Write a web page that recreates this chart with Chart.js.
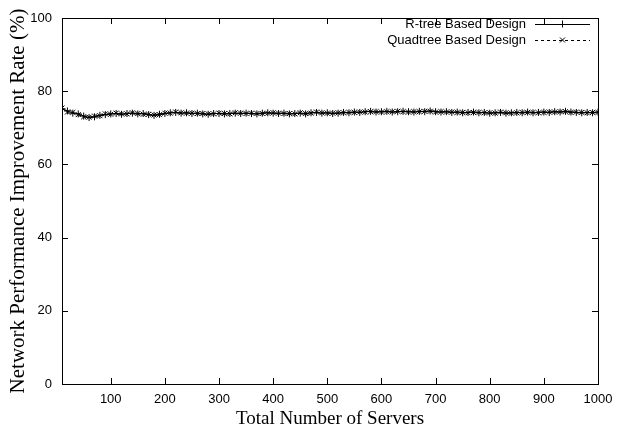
<!DOCTYPE html>
<html>
<head>
<meta charset="utf-8">
<script src="https://cdn.jsdelivr.net/npm/chart.js@4"></script>
<style>
  html, body { margin: 0; padding: 0; background: #fff; }
  #wrap { width: 622px; height: 430px; }
</style>
</head>
<body>
<div id="wrap"><canvas id="chart" width="622" height="430"></canvas></div>
<script>
const servers = [];
for (let s = 10; s <= 1000; s += 10) servers.push(s);

const rtreeRate = [
  75.2, 74.6, 74.0, 73.8, 73.2, 72.8, 73.0, 73.4, 73.6, 73.8,
  73.9, 73.7, 73.9, 74.0, 73.8, 73.9, 73.6, 73.4, 73.7, 73.9,
  74.1, 74.2, 74.0, 74.1, 73.9, 74.0, 73.8, 73.7, 73.9, 73.9,
  73.8, 73.9, 74.0, 73.9, 74.0, 73.9, 73.8, 74.0, 74.1, 74.0,
  73.9, 74.0, 73.8, 73.9, 74.0, 73.8, 74.1, 74.2, 74.0, 74.1,
  73.9, 74.0, 74.2, 74.1, 74.3, 74.2, 74.4, 74.5, 74.3, 74.4,
  74.5, 74.3, 74.4, 74.5, 74.4, 74.3, 74.5, 74.4, 74.6, 74.4,
  74.3, 74.4, 74.2, 74.3, 74.1, 74.2, 74.3, 74.1, 74.2, 74.0,
  74.1, 74.2, 74.0, 74.1, 74.2, 74.1, 74.3, 74.1, 74.2, 74.3,
  74.2, 74.4, 74.3, 74.5, 74.3, 74.2, 74.1, 74.2, 74.1, 74.3
];

const quadRate = [
  75.4, 74.3, 74.2, 73.6, 73.0, 72.9, 73.2, 73.3, 73.8, 73.7,
  74.0, 73.8, 73.8, 74.1, 73.9, 73.7, 73.7, 73.5, 73.6, 74.0,
  74.0, 74.3, 74.1, 74.0, 74.0, 73.9, 73.9, 73.8, 73.8, 74.0,
  73.9, 73.8, 74.1, 74.0, 73.9, 74.0, 73.9, 73.9, 74.0, 74.1,
  74.0, 73.9, 73.9, 73.8, 74.1, 73.9, 74.0, 74.3, 74.1, 74.0,
  74.0, 74.1, 74.1, 74.2, 74.2, 74.3, 74.3, 74.4, 74.4, 74.3,
  74.4, 74.4, 74.5, 74.4, 74.3, 74.4, 74.4, 74.5, 74.5, 74.3,
  74.4, 74.3, 74.3, 74.2, 74.2, 74.1, 74.2, 74.2, 74.1, 74.1,
  74.0, 74.3, 74.1, 74.0, 74.1, 74.2, 74.2, 74.2, 74.1, 74.2,
  74.3, 74.3, 74.4, 74.4, 74.2, 74.3, 74.2, 74.1, 74.2, 74.2
];

const xTicks = [100, 200, 300, 400, 500, 600, 700, 800, 900, 1000];
const yTicks = [0, 20, 40, 60, 80, 100];
const seriesNames = ['R-tree Based Design', 'Quadtree Based Design'];

const sansFont = "'Liberation Sans', Arial, sans-serif";
const serifFont = "'Liberation Serif', 'Times New Roman', serif";

function toPoints(vals) {
  return servers.map((s, i) => ({ x: s, y: vals[i] }));
}

// gnuplot style frame, inward ticks and legend
const frame = {
  id: 'frame',
  afterDatasetsDraw(chart) {
    const { ctx, chartArea: a, scales } = chart;
    ctx.save();
    ctx.strokeStyle = '#000';
    ctx.lineWidth = 1;
    ctx.strokeRect(a.left + 0.5, a.top + 0.5, a.right - a.left, a.bottom - a.top);
    ctx.beginPath();
    xTicks.forEach((v) => {
      const px = Math.round(scales.x.getPixelForValue(v)) + 0.5;
      ctx.moveTo(px, a.bottom); ctx.lineTo(px, a.bottom - 6);
      ctx.moveTo(px, a.top); ctx.lineTo(px, a.top + 6);
    });
    yTicks.forEach((v) => {
      const py = Math.round(scales.y.getPixelForValue(v)) + 0.5;
      ctx.moveTo(a.left, py); ctx.lineTo(a.left + 6, py);
      ctx.moveTo(a.right, py); ctx.lineTo(a.right - 6, py);
    });
    ctx.stroke();

    // legend
    ctx.font = '13px ' + sansFont;
    ctx.fillStyle = '#000';
    ctx.textAlign = 'right';
    ctx.textBaseline = 'middle';
    const rows = [a.top + 6, a.top + 22];
    seriesNames.forEach((name, i) => {
      const y = rows[i];
      ctx.fillText(name, 526, y);
      ctx.beginPath();
      ctx.setLineDash(i === 0 ? [] : [3, 3]);
      ctx.moveTo(535, y + 0.5); ctx.lineTo(590, y + 0.5);
      ctx.stroke();
      ctx.setLineDash([]);
      ctx.beginPath();
      if (i === 0) {
        ctx.moveTo(562.5, y - 3.5); ctx.lineTo(562.5, y + 3.5);
        ctx.moveTo(559, y + 0.5); ctx.lineTo(566, y + 0.5);
      } else {
        ctx.moveTo(560, y - 2.5); ctx.lineTo(565, y + 2.5);
        ctx.moveTo(560, y + 2.5); ctx.lineTo(565, y - 2.5);
      }
      ctx.stroke();
    });
    ctx.restore();
  }
};

new Chart(document.getElementById('chart'), {
  type: 'line',
  data: {
    datasets: [
      {
        label: seriesNames[0],
        data: toPoints(rtreeRate),
        borderColor: '#000',
        backgroundColor: '#000',
        borderWidth: 1,
        pointStyle: 'cross',
        pointRadius: 3.5,
        pointBorderWidth: 1,
        tension: 0
      },
      {
        label: seriesNames[1],
        data: toPoints(quadRate),
        borderColor: '#000',
        backgroundColor: '#000',
        borderWidth: 1,
        borderDash: [3, 3],
        pointStyle: 'crossRot',
        pointRadius: 3.5,
        pointBorderWidth: 1,
        tension: 0
      }
    ]
  },
  options: {
    responsive: false,
    animation: false,
    layout: { padding: { left: 0, top: 18, right: 24, bottom: 0 } },
    plugins: { legend: { display: false }, tooltip: { enabled: false } },
    scales: {
      x: {
        type: 'linear',
        min: 10,
        max: 1000,
        afterBuildTicks: (s) => { s.ticks = xTicks.map((v) => ({ value: v })); },
        afterFit: (s) => { s.height = 46; },
        grid: { display: false },
        border: { display: false },
        ticks: {
          color: '#000',
          font: { family: sansFont, size: 13 },
          padding: 0,
          maxRotation: 0,
          callback: (v) => String(v)
        },
        title: {
          display: true,
          text: 'Total Number of Servers',
          color: '#000',
          font: { family: serifFont, size: 19 },
          padding: { top: 0, bottom: 0 }
        }
      },
      y: {
        min: 0,
        max: 100,
        afterBuildTicks: (s) => { s.ticks = yTicks.map((v) => ({ value: v })); },
        afterFit: (s) => { s.width = 62; },
        grid: { display: false },
        border: { display: false },
        ticks: { color: '#000', font: { family: sansFont, size: 13 }, padding: 2 },
        title: {
          display: true,
          text: 'Network Performance Improvement Rate (%)',
          color: '#000',
          font: { family: serifFont, size: 21 },
          padding: { top: 6, bottom: 0 }
        }
      }
    }
  },
  plugins: [frame]
});
</script>
</body>
</html>
